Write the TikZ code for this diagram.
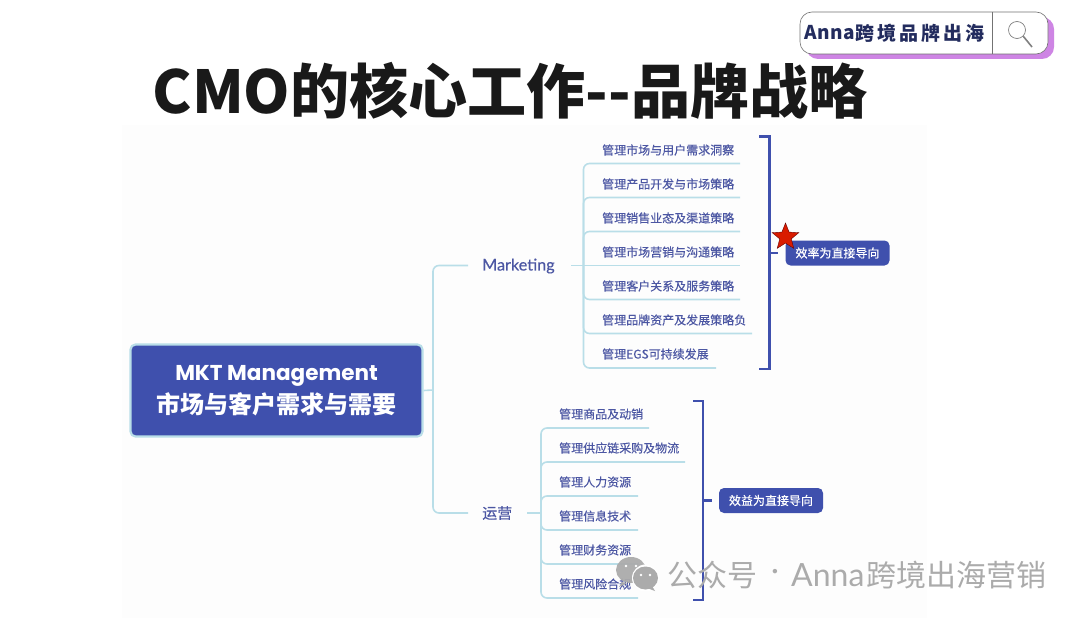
\documentclass[tikz,border=0pt]{standalone}
\usepackage{fontspec}
\usetikzlibrary{shapes.geometric}
\setmainfont{Noto Sans CJK SC}
\newfontfamily\cjk{Noto Sans CJK SC}
\newfontfamily\cjkm[FakeBold=0.25]{Noto Sans CJK SC}
\newfontfamily\logof[LetterSpace=16.5]{Noto Sans CJK SC}
\newfontfamily\annaf[LetterSpace=3]{Noto Sans CJK SC}
\newfontfamily\latf{Lato}
\newfontfamily\latm[FakeBold=0.3]{Lato}
\newfontfamily\popf{Poppins}
\newcommand{\fs}[1]{\fontsize{#1}{#1}\selectfont}
\definecolor{blu}{HTML}{3F50AD}
\definecolor{txt}{HTML}{4C57A3}
\definecolor{lin}{HTML}{B9DEE8}
\definecolor{wm}{HTML}{ABABAB}
\definecolor{shad}{HTML}{CE85E4}
\definecolor{navy}{HTML}{232C5E}
\tikzset{
  conn/.style={draw=lin,line width=1.6pt,rounded corners=6pt},
  brk/.style={draw=blu,line width=2.2pt},
  leaf/.style={anchor=west,inner sep=0pt,text=txt,font=\cjkm\fs{12}},
  branch/.style={anchor=west,inner sep=0pt,text=txt},
  tag/.style={fill=blu,rounded corners=5pt,text=white,font=\cjkm\fs{12},inner sep=0pt,minimum width=104pt,minimum height=25pt},
  wmt/.style={anchor=west,inner sep=0pt,text=wm,font=\cjk\fs{30}}
}
\begin{document}
\begin{tikzpicture}[x=1pt,y=-1pt]
\useasboundingbox (0,0) rectangle (1080,618);
\fill[white] (0,0) rectangle (1080,618);
\fill[black!0.8] (122,125) rectangle (927,618);
% title
\node[anchor=west,inner sep=0pt,font=\cjk\bfseries\fs{59.1},text=black!90] (title) at (152.5,90.5) {CMO的核心工作--品牌战略};
% logo
\fill[rounded corners=12pt,fill=shad] (806,17) rectangle (1054,59);
\node[draw=black!55,line width=.6pt,fill=white,rounded corners=12pt,minimum width=248pt,minimum height=42pt,inner sep=0pt] (logo) at (924,33) {};
\draw[black!55,line width=.6pt] (992,12) -- (992,54);
\node[anchor=west,inner sep=0pt,text=navy,font=\annaf\bfseries\fs{19}] (logoa) at (804.5,33) {Anna};
\node[anchor=west,inner sep=0pt,text=navy,font=\logof\bfseries\fs{19}] (logotext) at (855,33) {跨境品牌出海};
\node[circle,draw=black!50,line width=.7pt,fill=white,minimum size=17pt,inner sep=0pt] (lens) at (1017,30) {};
\coordinate (handle) at (1032,47);
\draw[black!50,line width=1.6pt] (lens.-45) -- (handle);
% root
\node[fill=blu,draw=lin,line width=2.2pt,rounded corners=5pt,minimum width=292pt,minimum height=92pt,inner sep=0pt,text=white,align=center] (root) at (276.5,390.5)
 {{\popf\bfseries\fs{21.5}MKT Management}\\[5pt]{\cjk\bfseries\fs{24}市场与客户需求与需要}};
% branches
\node[branch,font=\latm\fs{16.2}] (mk) at (482,266) {Marketing};
\node[branch,font=\cjkm\fs{15}] (op) at (482,513) {运营};
\coordinate (mkin) at (468,265.5);
\coordinate (opin) at (468,513);
\coordinate (trunk) at (433,390);
\draw[conn] (root.east) -- (trunk);
\draw[conn] (trunk) |- (mkin);
\draw[conn] (trunk) |- (opin);
% marketing leaves
\foreach \n/\y/\t in {a1/150/管理市场与用户需求洞察,a2/184/管理产品开发与市场策略,a3/218/管理销售业态及渠道策略,a4/252/管理市场营销与沟通策略,a5/286/管理客户关系及服务策略,a6/320/管理品牌资产及发展策略负,a7/354/管理EGS可持续发展}
  \node[leaf] (\n) at (602,\y) {\t};
\coordinate (mspine) at (583.5,265.5);
\coordinate (mfrom) at (571,265.5);
\draw[conn] (mfrom) -- (mspine);
\foreach \y/\e in {163.5/740,197.5/740,231.5/740}
  \draw[conn] (mspine) |- (\e,\y);
\draw[conn] (mspine) -- (740,265.5);
\foreach \y/\e in {299.5/740,333.5/752,368/716}
  \draw[conn] (mspine) |- (\e,\y);
% ops leaves
\foreach \n/\y/\t in {b1/414/管理商品及动销,b2/448/管理供应链采购及物流,b3/482/管理人力资源,b4/516/管理信息技术,b5/550/管理财务资源,b6/584/管理风险合规}
  \node[leaf] (\n) at (559,\y) {\t};
\coordinate (ospine) at (541,513);
\coordinate (ofrom) at (527,513);
\draw[conn] (ofrom) -- (ospine);
\foreach \y/\e in {428/649,462/685,496/638}
  \draw[conn] (ospine) |- (\e,\y);
\foreach \y/\e in {530/638,564/638,598/638}
  \draw[conn] (ospine) |- (\e,\y);
% brackets and tags
\node[tag] (t1) at (837.5,253) {效率为直接导向};
\node[tag] (t2) at (771,500.5) {效益为直接导向};
\draw[brk] (759,136.5) -- (769.5,136.5) -- (769.5,369) -- (759,369);
\coordinate (s1) at (769.5,253);
\coordinate (s1e) at (778,253);
\draw[brk] (s1) -- (s1e);
\draw[brk] (693,401) -- (703,401) -- (703,600) -- (693,600);
\coordinate (s2) at (703,500.5);
\coordinate (s2e) at (712,500.5);
\draw[brk] (s2) -- (s2e);
\node[star,star points=5,star point ratio=2.3,fill=red!75!orange!85!black,draw=red!40!black,line width=.4pt,minimum size=28pt,inner sep=0pt] (st) at (785.5,237) {};
% watermark
\fill[wm,opacity=.95] (631,570) ellipse (15pt and 13pt);
\fill[wm,opacity=.95] (622,582) -- (619,587) -- (627,583) -- cycle;
\fill[white] (645.5,578) circle (13.5pt);
\fill[wm] (645.5,578) ellipse (12.5pt and 11.5pt);
\fill[wm] (652,586) -- (655,591) -- (647,588) -- cycle;
\fill[white] (626,566) circle (1.4pt) (636,566) circle (1.4pt) (641,575) circle (1.4pt) (650,575) circle (1.4pt);
\node[wmt] (wm1) at (667,575) {公众号};
\node[inner sep=0pt,text=wm,font=\latf\fs{30}] (wm2) at (775,575) {·};
\node[wmt,font=\latf\fs{32}] (wm3) at (791,575) {Anna};
\node[wmt] (wm4) at (866,575) {跨境出海营销};
\end{tikzpicture}
\end{document}
